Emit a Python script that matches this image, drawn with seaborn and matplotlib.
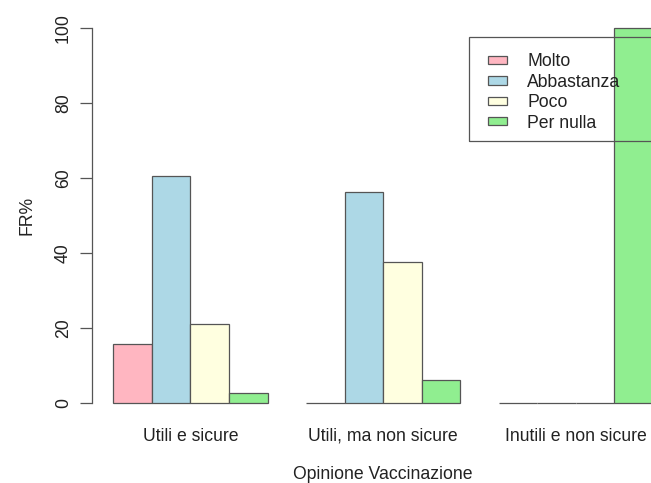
import matplotlib
matplotlib.use("Agg")
import matplotlib.pyplot as plt
from matplotlib.patches import Patch, Rectangle
import seaborn as sns
import pandas as pd

# Relative frequencies (%) per opinion group and trust level
categories = ["Utili e sicure", "Utili, ma non sicure", "Inutili e non sicure"]
levels = ["Molto", "Abbastanza", "Poco", "Per nulla"]
molto = [15.8, 0.0, 0.0]
abbastanza = [60.5, 56.25, 0.0]
poco = [21.1, 37.5, 0.0]
per_nulla = [2.6, 6.25, 100.0]
colors = ["#FFB6C1", "#ADD8E6", "#FFFFE0", "#90EE90"]
y_ticks = [0, 20, 40, 60, 80, 100]

series = dict(zip(levels, [molto, abbastanza, poco, per_nulla]))
df = pd.DataFrame(
    [(cat, lev, series[lev][i]) for i, cat in enumerate(categories) for lev in levels],
    columns=["opinione", "livello", "fr"],
)

sns.set_style("white")
plt.rcParams["font.family"] = ["Liberation Sans", "DejaVu Sans"]
FS = 12.7
edge = "#555555"
W, H = 651, 483

fig = plt.figure(figsize=(W / 100, H / 100), dpi=100)
ax = fig.add_axes([0.1412, 0.1346, 0.8943, 0.8385])

sns.barplot(
    data=df, x="opinione", y="fr", hue="livello",
    order=categories, hue_order=levels, palette=colors, saturation=1,
    edgecolor=edge, linewidth=0.9, errorbar=None, width=0.8, gap=0,
    legend=False, ax=ax,
)

ax.set_xlim(-0.512, 2.512)
ax.set_ylim(-4, 104)
ax.set_yticks(y_ticks)
ax.set_yticklabels([str(t) for t in y_ticks], rotation=90, va="center", fontsize=FS, color="#222222")
ax.tick_params(axis="y", length=8.4, width=0.9, color=edge, pad=6, left=True)
ax.tick_params(axis="x", length=0, pad=7, labelsize=FS, labelcolor="#222222")

for side in ["top", "right", "bottom"]:
    ax.spines[side].set_visible(False)
ax.spines["left"].set_bounds(0, 100)
ax.spines["left"].set_color(edge)
ax.spines["left"].set_linewidth(0.9)

ax.set_ylabel("FR%", fontsize=FS, color="#222222", labelpad=14)
ax.set_xlabel("Opinione Vaccinazione", fontsize=FS, color="#222222", labelpad=15.5)

# legend entries without their own frame; the box is drawn separately
handles = [Patch(facecolor=c, edgecolor=edge, linewidth=0.9) for c in colors]
leg = fig.legend(
    handles, levels, loc="upper left",
    bbox_to_anchor=(488 / W, 1 - 53.5 / H), bbox_transform=fig.transFigure,
    fontsize=FS, frameon=False,
    handlelength=1.08, handleheight=0.34, handletextpad=1.15,
    labelspacing=0.19, borderpad=0, borderaxespad=0,
)
for t in leg.get_texts():
    t.set_color("#222222")

fig.patches.append(Rectangle(
    (469 / W, 1 - 141 / H), 0.4, 104 / H, transform=fig.transFigure,
    fill=False, edgecolor=edge, linewidth=0.9, zorder=10,
))

fig.savefig("out.png", dpi=100)
